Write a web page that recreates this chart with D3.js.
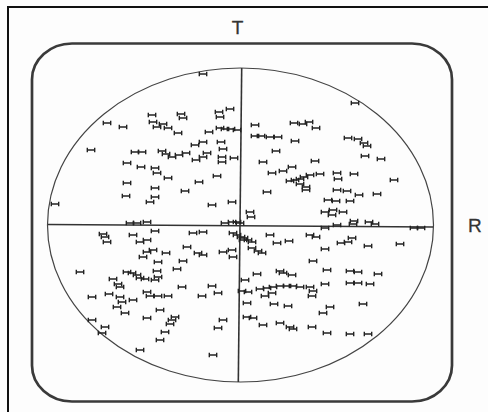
<!DOCTYPE html>
<html>
<head>
<meta charset="utf-8">
<script src="https://cdn.jsdelivr.net/npm/d3@7"></script>
<style>
  html, body { margin: 0; padding: 0; background: #fdfdfd; }
  svg { display: block; }
  text { font-family: "Liberation Sans", Arial, Helvetica, sans-serif; }
</style>
</head>
<body>
<script>
// Scatter of measurements on a T/R plane, each shown as a small horizontal bar marker.
const xValues = [
  -18.5, -66.5, -58.5, -44, -43.5, -41.5, -38.5, -36, -29.5, -28.5, -31, -10.5, -10, -5, -10, -7.5, -4.5, -1.5,
  -15.5, -74.5, -52.5, -49, -39, -37, -34, -30.5, -27, -22.5, -18.5, -22, -18.5, -16.5, -9.5, -8.5, -9, -9, -3,
  -56.5, -49.5, -42.5, -41.5, -36, -11.5, -20.5, -56.5, -42.5, -27.5, -57, -42.5, -45, -14, -4, -92.5,
  57.5, 7.5, 27, 31.5, 34.5, 38, 7.5, 10.5, 15, 19, 27.5, 54, 59, 62, 63.5, 18, 62.5, 70.5, 11.5, 37.5,
  16, 21.5, 26, 25, 27.5, 30, 32, 35, 40, 30, 33, 48.5, 57, 49, 77, 13.5, 33, 48.5, 53.5, 59.5, 68.5,
  44, 48, 55, 42.5, 46.5, 51.5, 46, 5, 5.5,
  57, 56.5, 64.5, 67.5, 42.5, 48.5, 87, 90.5,
  1.5, 6, 15, 18.5, 24.5, 35, 38, 50.5, 54, 56, 64, 80, 6, 9, 11, 42.5, 36.5, 2.5, 8.5, 20, 21.5, 26,
  43.5, 55, 59, 69, 1, 4, 10, 13.5, 16.5, 20, 23.5, 26.5, 30, 35, 36.5, 36, 42.5, 55, 59, 65, 12.5, 16,
  3.5, 17, 24, 45, 41.5, 61.5, 3.5, 6.5, 11.5, 20, 25, 26.5, 36, 43.5, 55, 64,
  -7.5, -4, -1.5, 0, -3.5, -1.5, 0.5, 2, 4, -8.5, -4, -3.5, -21, -18.5, -23.5, -18.5,
  -55, -51.5, -46.5, -68.5, -67.5, -66.5, -53.5, -42.5, -50, -46.5, -46.5, -43.5, -37, -26.5, -48.5, -41,
  -28.5, -80, -56.5, -54, -51.5, -50, -47.5, -41.5, -41, -42.5, -63.5, -61, -60, -31.5, -29, -14, -11,
  -74, -65.5, -60, -59, -53.5, -46.5, -45, -41, -36, -19, -61.5, -57.5, -40, -46.5, -32.5, -34, -35,
  -8.5, -74, -67.5, -69, -11, -37.5, -40, -50, -13.5
];
const yValues = [
  75.5, 51, 49, 55, 51.5, 49, 50.5, 48.5, 55.5, 53.5, 46, 56.5, 54, 58, 48.5, 48, 48, 47.5,
  46.5, 37.5, 36.5, 36.5, 37, 35.5, 34, 35, 36, 40, 41.5, 32.5, 34, 36, 41.5, 38, 34, 31.5, 33.5,
  31, 29, 28.5, 26, 23.5, 24.5, 21.5, 21, 18.5, 17, 14.5, 14, 11.5, 10, 11.5, 10.5,
  61, 50, 51, 50.5, 51.5, 48.5, 44.5, 44.5, 44, 44, 42, 43.5, 43, 41, 39.5, 37, 34.5, 33, 31.5, 32,
  26, 27, 29, 22, 22.5, 23, 24, 25, 25.5, 20.5, 19, 26, 25.5, 23, 22.5, 16.5, 17.5, 17.5, 17, 15, 15.5,
  12.5, 12, 12, 6.5, 7.5, 6.5, 5, 6.5, 4,
  2, 0.5, 1.5, 0.5, -1.5, 0, -1.5, -1.5,
  -7.5, -8.5, -5, -9, -8, -5, -6, -9, -8.5, -6.5, -10.5, -9.5, -11.5, -13, -14, -12, -18, -27.5, -24.5, -23, -24, -25,
  -22.5, -23, -23.5, -24.5, -33, -33.5, -32, -31.5, -31, -30.5, -30.5, -30.5, -31, -31, -33, -35.5, -29.5, -29, -29, -29.5, -35.5, -34,
  -39, -39.5, -40.5, -41, -44, -39.5, -46, -46.5, -50, -49, -51, -52, -51, -54, -54.5, -54.5,
  1, 1.5, 1.5, 1, -4, -5, -6, -6.5, -7.5, -13.5, -12.5, -16, -14, -15, -4, -3.5,
  1, 1, 1.5, -4.5, -6, -8.5, -5, -3, -8.5, -7.5, -13.5, -12.5, -14, -11, -16, -18.5,
  -18, -23.5, -23.5, -24, -25, -26.5, -27, -23, -26, -27.5, -27, -29.5, -31, -22, -31, -30.5, -34,
  -36, -34.5, -36, -38.5, -37.5, -33.5, -35.5, -35.5, -35.5, -35.5, -41, -44, -42.5, -46.5, -46, -47.5, -49.5,
  -47.5, -47.5, -51, -54, -51.5, -53.5, -57.5, -62.5, -65
];
// Limits of the plotting region (boundary ellipse semi-axes)
const xLimit = [-96.5, 96.5];
const yLimit = [-78.5, 78.5];
const axisLabels = ["T", "R"];

const W = 488, H = 412;
const svg = d3.select("body").append("svg").attr("width", W).attr("height", H);

const x = d3.scaleLinear().domain([-100, 100]).range([40, 440]);
const y = d3.scaleLinear().domain([-100, 100]).range([425, 25]);

const ink = "#222";

// Page border (top and left edges)
svg.append("line").attr("x1", 7).attr("x2", W).attr("y1", 7).attr("y2", 7)
  .attr("stroke", "#111").attr("stroke-width", 2);
svg.append("line").attr("x1", 8).attr("x2", 8).attr("y1", 7).attr("y2", H)
  .attr("stroke", "#111").attr("stroke-width", 2);

// Rounded frame
svg.append("rect")
  .attr("x", 32).attr("y", 43.5).attr("width", 420).attr("height", 358)
  .attr("rx", 40).attr("ry", 36)
  .attr("fill", "none").attr("stroke", "#3a3a3a").attr("stroke-width", 2.7);

// Boundary ellipse
const cx = x(0), cy = y(0);
const rx = x(xLimit[1]) - cx, ry = cy - y(yLimit[1]);
svg.append("ellipse")
  .attr("cx", cx + 0.5).attr("cy", cy).attr("rx", rx).attr("ry", ry)
  .attr("fill", "none").attr("stroke", "#444").attr("stroke-width", 1.2);

// Crosshair axes
svg.append("line")
  .attr("x1", x(xLimit[0]) + 1).attr("y1", cy - 0.5)
  .attr("x2", x(xLimit[1])).attr("y2", cy + 2)
  .attr("stroke", "#333").attr("stroke-width", 1.6);
svg.append("line")
  .attr("x1", cx + 1.7).attr("y1", y(yLimit[1]))
  .attr("x2", cx - 1.7).attr("y2", y(yLimit[0]))
  .attr("stroke", "#333").attr("stroke-width", 1.6);

// Markers: horizontal bar with end caps
const hw = 3.7, hh = 2.2;
const markerPath = d3.range(xValues.length).map(i => {
  const px = x(xValues[i]), py = y(yValues[i]);
  const p = d3.path();
  p.moveTo(px - hw, py); p.lineTo(px + hw, py);
  p.moveTo(px - hw, py - hh); p.lineTo(px - hw, py + hh);
  p.moveTo(px + hw, py - hh); p.lineTo(px + hw, py + hh);
  return p.toString();
});
svg.append("g").selectAll("path").data(markerPath).join("path")
  .attr("d", d => d)
  .attr("fill", "none").attr("stroke", ink).attr("stroke-width", 1.4);

// Axis labels
svg.append("text").attr("x", 237.5).attr("y", 34)
  .attr("text-anchor", "middle").attr("font-size", 19).attr("fill", "#333")
  .attr("stroke", "#333").attr("stroke-width", 0.3)
  .text(axisLabels[0]);
svg.append("text").attr("x", 468).attr("y", 232)
  .attr("text-anchor", "start").attr("font-size", 19).attr("fill", "#333")
  .attr("stroke", "#333").attr("stroke-width", 0.3)
  .text(axisLabels[1]);
</script>
</body>
</html>
